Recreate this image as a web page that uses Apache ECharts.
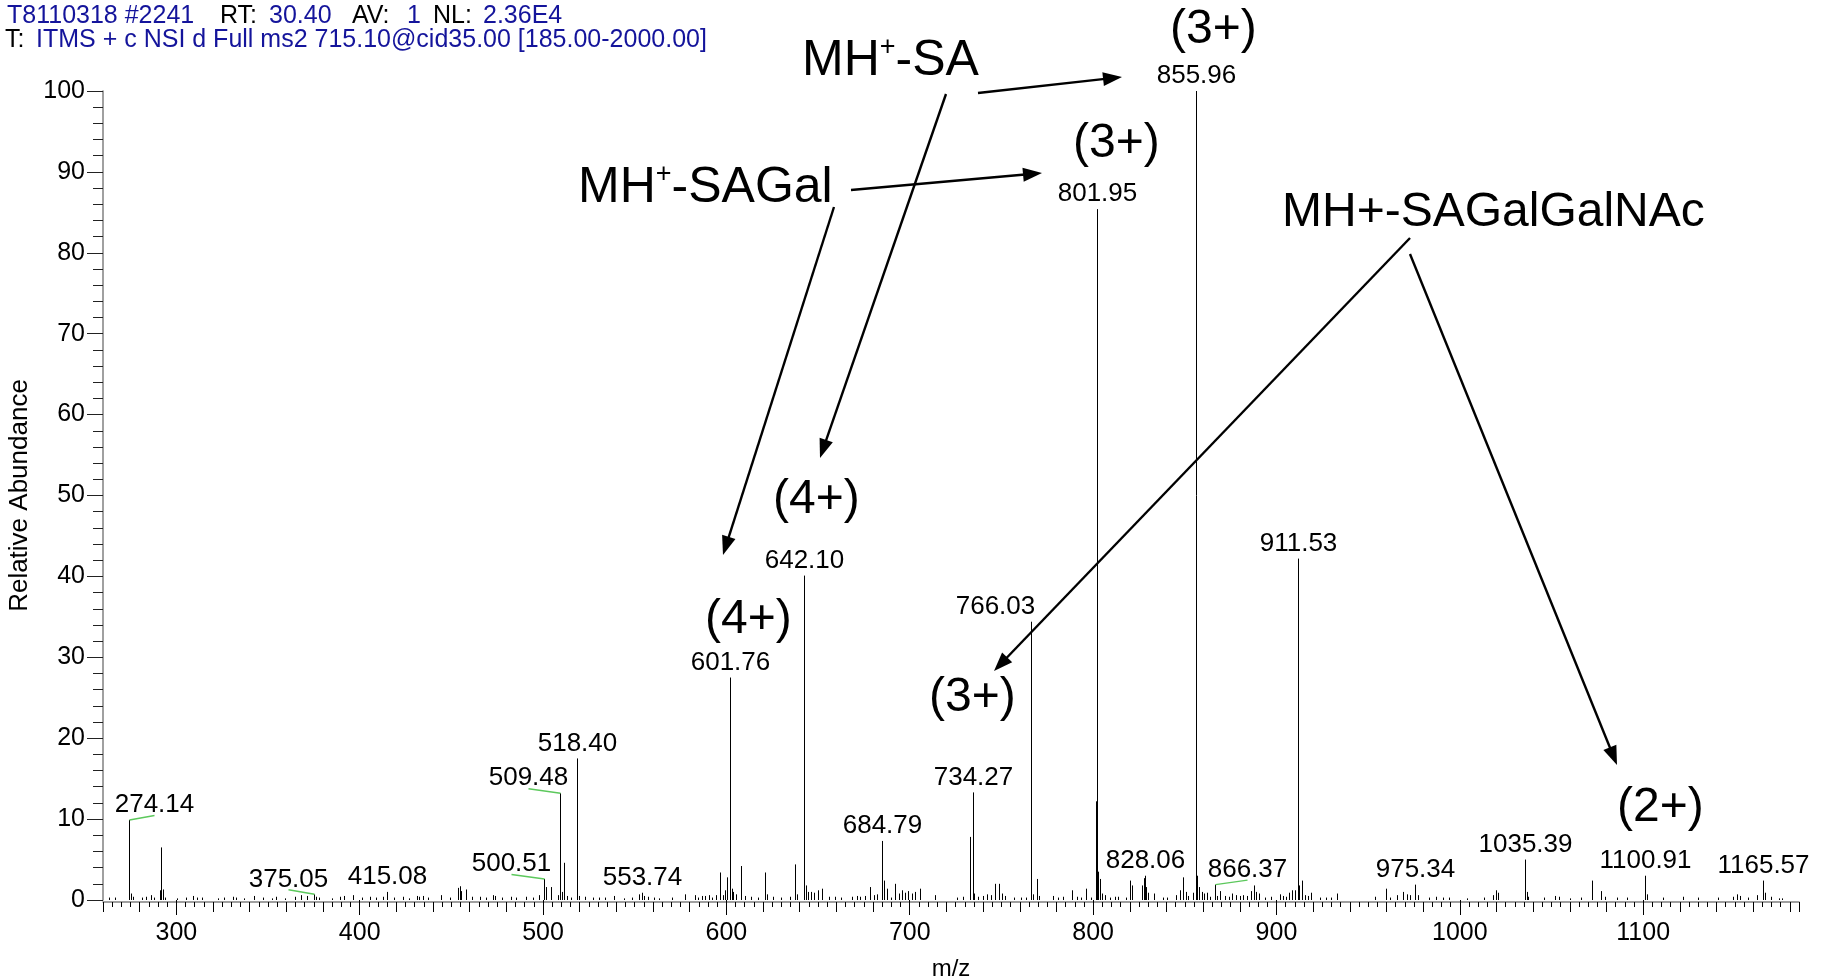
<!DOCTYPE html>
<html>
<head>
<meta charset="utf-8">
<title>MS2 spectrum</title>
<script src="https://cdn.jsdelivr.net/npm/echarts@6.0.0/dist/echarts.min.js"></script>
<style>
html, body { margin: 0; padding: 0; background: #fff; }
#main { width: 1827px; height: 979px; }
</style>
</head>
<body>
<div id="main"></div>
<script>
// axis ranges / ticks
var mzMin = 260, mzMax = 1185;
var mzLabelFrom = 300, mzLabelTo = 1100, mzLabelStep = 100;
var abundMin = 0, abundMax = 100, abundStep = 10;

// labelled peaks (m/z, relative abundance)
var labelMz    = [274.14, 375.05, 415.08, 500.51, 509.48, 518.40, 553.74, 601.76, 642.10, 684.79, 734.27,
                  766.03, 801.95, 828.06, 855.96, 866.37, 911.53, 975.34, 1035.39, 1100.91, 1165.57];
var labelAbund = [9.9, 0.7, 1.0, 2.6, 13.2, 17.5, 0.9, 27.5, 40.1, 7.3, 13.3,
                  34.4, 85.4, 3.0, 100, 1.9, 42.2, 1.9, 5.0, 3.0, 2.4];

// the other (unlabelled) sticks, [m/z, abundance]
var minorPeaks = [
  [263.0,0.3],[266.5,0.3],[275.1,0.8],[276.2,0.4],[281.5,0.3],[283.3,0.4],[286.4,0.6],[288.0,0.3],
  [291.1,1.2],[291.8,6.5],[292.5,1.3],[294.0,0.3],[300.6,0.2],[305.0,0.3],[309.0,0.5],[311.5,0.3],
  [314.0,0.3],[322.5,0.2],[326.0,0.3],[331.0,0.4],[332.5,0.3],[337.0,0.2],[342.5,0.5],[347.0,0.3],
  [352.0,0.2],[354.5,0.4],[359.0,0.2],[364.5,0.4],[368.0,0.6],[371.5,0.5],[376.3,0.4],[378.0,0.3],
  [385.0,0.2],[389.5,0.4],[391.5,0.5],[396.5,0.6],[401.5,0.3],[405.5,0.4],[409.0,0.3],[412.5,0.4],
  [418.5,0.3],[423.5,0.4],[427.0,0.2],[431.0,0.5],[432.5,0.4],[434.5,0.5],[437.5,0.3],[444.5,0.6],
  [449.5,0.3],[453.6,1.5],[454.5,1.7],[455.4,1.1],[457.8,1.3],[461.5,0.4],[465.5,0.4],[469.0,0.3],
  [472.5,0.6],[474.0,0.5],[477.5,0.3],[482.5,0.4],[485.5,0.3],[490.5,0.4],[494.5,0.3],[497.8,0.6],
  [501.5,1.6],[504.3,1.6],[508.3,0.6],[510.4,1.0],[511.4,4.6],[513.0,0.5],[515.5,0.3],[519.4,0.5],
  [523.0,0.4],[527.0,0.3],[530.5,0.3],[534.0,0.3],[538.7,0.5],[544.0,0.2],[548.5,0.3],[552.5,0.7],
  [555.0,0.5],[557.0,0.4],[560.5,0.3],[563.5,0.2],[570.5,0.3],[577.5,0.7],[582.7,0.6],[584.5,0.3],
  [586.5,0.5],[588.5,0.5],[590.5,0.6],[592.0,0.3],[594.5,0.6],[596.7,3.4],[598.0,0.6],[599.2,1.2],
  [600.4,2.8],[602.8,1.4],[603.6,1.0],[605.2,0.7],[607.8,4.2],[610.0,0.5],[613.5,0.4],[617.0,0.3],
  [620.8,3.4],[622.0,0.7],[625.5,0.4],[630.0,0.3],[634.5,0.4],[637.4,4.4],[638.5,0.7],[643.2,1.8],
  [644.6,1.0],[646.4,1.0],[648.0,0.9],[650.2,1.2],[652.3,1.4],[656.0,0.4],[659.5,0.4],[662.5,0.3],
  [668.5,0.4],[671.0,0.5],[673.0,0.4],[675.5,0.5],[678.4,1.6],[680.3,0.6],[682.0,0.7],[685.8,2.4],
  [687.5,1.4],[690.0,0.3],[692.0,2.0],[694.0,0.8],[696.0,1.2],[697.6,0.9],[699.3,1.1],[701.0,0.8],
  [703.0,1.0],[705.5,1.4],[714.0,0.6],[726.0,0.3],[729.0,0.4],[732.6,7.8],[735.3,0.8],[737.0,0.4],
  [740.0,0.5],[742.0,0.7],[744.2,0.6],[746.4,2.0],[748.8,2.0],[750.2,0.8],[752.0,0.5],[757.0,0.3],
  [760.5,0.3],[763.5,0.3],[767.2,0.7],[769.5,2.6],[770.6,0.5],[778.0,0.5],[781.0,0.3],[783.5,0.4],
  [788.5,1.2],[791.0,0.4],[793.5,0.3],[796.4,1.4],[799.0,0.3],[801.62,12.2],[802.28,72.0],[802.62,3.5],
  [803.6,2.6],[805.0,0.8],[806.5,0.6],[809.0,0.3],[812.0,0.4],[813.5,0.4],[818.0,0.3],[820.2,2.4],
  [821.0,1.8],[826.8,1.8],[827.6,2.7],[829.0,1.6],[830.2,0.9],[833.0,0.8],[838.0,0.3],[840.5,0.3],
  [845.0,0.6],[847.2,1.2],[849.3,2.8],[850.5,1.0],[852.0,0.5],[854.5,0.9],[856.30,17.0],[856.63,3.0],
  [858.0,1.6],[859.2,1.0],[860.4,0.8],[862.0,0.9],[863.5,0.4],[867.5,0.5],[869.0,1.1],[872.0,0.5],
  [874.0,0.4],[876.0,0.8],[878.0,0.6],[880.0,0.5],[882.0,0.6],[884.0,0.5],[886.0,1.1],[887.5,1.8],
  [889.0,1.0],[890.5,0.8],[894.0,0.3],[897.0,0.4],[902.0,0.7],[903.5,0.5],[905.0,0.4],[907.0,0.9],
  [908.5,1.2],[910.0,1.2],[912.5,1.8],[914.0,2.4],[915.5,0.6],[917.0,0.5],[919.0,0.9],[924.0,0.3],
  [927.0,0.3],[930.0,0.3],[933.0,0.8],[954.0,0.4],[960.0,1.4],[962.0,0.3],[966.0,0.6],[969.0,1.0],
  [971.0,0.7],[973.0,0.6],[977.0,0.6],[983.0,0.3],[987.0,0.4],[991.0,0.3],[994.0,0.3],[1004.0,0.2],
  [1013.0,0.3],[1018.0,0.6],[1019.6,1.2],[1021.0,0.9],[1036.4,1.0],[1037.3,0.4],[1046.0,0.3],[1052.0,0.5],
  [1054.0,0.4],[1060.0,0.2],[1066.0,0.3],[1072.2,2.4],[1077.0,1.1],[1079.0,0.4],[1086.0,0.3],[1091.0,0.3],
  [1102.0,0.7],[1111.0,0.3],[1122.0,0.4],[1130.0,0.3],[1141.0,0.3],[1149.0,0.4],[1151.0,0.7],[1153.0,0.5],
  [1157.0,0.3],[1162.0,0.6],[1166.6,0.9],[1170.0,0.4],[1174.0,0.2],[1176.0,0.2]
];

// ---- look & layout ----
var FONT = '"Liberation Sans", Arial, Helvetica, sans-serif';
var BLUE = '#14149b';
var plot = { left: 103, right: 28, top: 91, bottom: 79 };
var pxPerMz = (1827 - plot.left - plot.right) / (mzMax - mzMin);

// horizontal shift of labels that were moved off their stick (green leader line)
var labelShift = { '274.14': 25, '375.05': -26, '500.51': -33, '509.48': -32, '866.37': 32, '766.03': -36 };
var leaderLabels = ['274.14', '375.05', '500.51', '509.48', '866.37'];

var headerBits = [
  [7, 16, 'T8110318 #2241', BLUE], [220, 16, 'RT:', '#000'], [269, 16, '30.40', BLUE],
  [352, 16, 'AV:', '#000'], [407, 16, '1', BLUE], [433, 16, 'NL:', '#000'], [483, 16, '2.36E4', BLUE],
  [5, 40, 'T:', '#000'], [36, 40, 'ITMS + c NSI d Full ms2 715.10@cid35.00 [185.00-2000.00]', BLUE]
];

// annotation texts: x, y(middle), text, size
var annoTexts = [
  [802, 61, '{a|MH}{s|+}{a|-SA}', 50],
  [578, 188, '{a|MH}{s|+}{a|-SAGal}', 50],
  [1282, 213, '{a|MH+-SAGalGalNAc}', 48],
  [1170, 30, '{a|(3+)}', 48],
  [1073, 144, '{a|(3+)}', 48],
  [773, 500, '{a|(4+)}', 48],
  [705, 620, '{a|(4+)}', 48],
  [929, 698, '{a|(3+)}', 48],
  [1617, 808, '{a|(2+)}', 48]
];

// arrows: x1, y1 -> tip x2, y2
var arrows = [
  [978, 93, 1122, 77],
  [946, 94, 820, 458],
  [851, 190, 1042, 173],
  [834, 207, 723, 555],
  [1410, 238, 994, 671],
  [1410, 254, 1617, 765]
];

function arrowGraphics(a) {
  var dx = a[2] - a[0], dy = a[3] - a[1];
  var len = Math.sqrt(dx * dx + dy * dy);
  var ux = dx / len, uy = dy / len;
  var hl = 19, hw = 7;
  var bx = a[2] - ux * hl, by = a[3] - uy * hl;
  return [{
    type: 'line', silent: true,
    shape: { x1: a[0], y1: a[1], x2: bx + ux * 2, y2: by + uy * 2 },
    style: { stroke: '#000', lineWidth: 2.4 }
  }, {
    type: 'polygon', silent: true,
    shape: { points: [[a[2], a[3]], [bx - uy * hw, by + ux * hw], [bx + uy * hw, by - ux * hw]] },
    style: { fill: '#000' }
  }];
}

var graphics = [];
headerBits.forEach(function (h) {
  graphics.push({
    type: 'text', x: h[0], y: h[1], silent: true,
    style: { text: h[2], fill: h[3], font: '25px ' + FONT, align: 'left', verticalAlign: 'middle',
             textAlign: 'left', textVerticalAlign: 'middle' }
  });
});
annoTexts.forEach(function (t) {
  graphics.push({
    type: 'text', x: t[0], y: t[1], silent: true,
    style: {
      text: t[2], align: 'left', verticalAlign: 'middle', textAlign: 'left', textVerticalAlign: 'middle',
      rich: {
        a: { fontSize: t[3], fontFamily: FONT, fill: '#000', color: '#000', lineHeight: 54 },
        s: { fontSize: 27, fontFamily: FONT, fill: '#000', color: '#000', lineHeight: 45, verticalAlign: 'top' }
      }
    }
  });
});
arrows.forEach(function (a) { graphics = graphics.concat(arrowGraphics(a)); });

// all sticks
var allPeaks = minorPeaks.slice();
labelMz.forEach(function (m, i) { allPeaks.push([m, labelAbund[i]]); });
allPeaks.sort(function (a, b) { return a[0] - b[0]; });

function renderStick(params, api) {
  var top = api.coord([api.value(0), api.value(1)]);
  var base = api.coord([api.value(0), 0]);
  var x = Math.round(top[0]) + 0.5;
  return {
    type: 'line',
    shape: { x1: x, y1: base[1], x2: x, y2: top[1] },
    style: { stroke: '#000', lineWidth: 1 }
  };
}

function renderLabel(params, api) {
  var mz = api.value(0);
  var p = api.coord([mz, api.value(1)]);
  var txt = mz.toFixed(2);
  var shift = labelShift[txt] || 0;
  var x = Math.round(p[0]) + 0.5;
  var kids = [{
    type: 'text', x: x + shift, y: p[1] - 2,
    style: { text: txt, fill: '#000', font: '26px ' + FONT, align: 'center', verticalAlign: 'bottom',
             textAlign: 'center', textVerticalAlign: 'bottom' }
  }];
  if (leaderLabels.indexOf(txt) >= 0) {
    kids.push({
      type: 'line',
      shape: { x1: x, y1: p[1], x2: x + shift, y2: p[1] - 4.5 },
      style: { stroke: '#5cc85c', lineWidth: 1.5 }
    });
  }
  return { type: 'group', children: kids };
}

var chart = echarts.init(document.getElementById('main'));
chart.setOption({
  animation: false,
  backgroundColor: '#fff',
  graphic: graphics,
  grid: [
    { left: plot.left, right: plot.right, top: plot.top, bottom: plot.bottom, containLabel: false, outerBoundsMode: 'none' },
    // second grid only carries the labelled m/z ticks (every 100)
    { left: plot.left + (mzLabelFrom - mzMin) * pxPerMz,
      right: plot.right + (mzMax - mzLabelTo) * pxPerMz,
      top: plot.top, bottom: plot.bottom, containLabel: false, outerBoundsMode: 'none' }
  ],
  xAxis: [{
    gridIndex: 0, type: 'value', min: mzMin, max: mzMax, interval: 20, offset: 2,
    name: 'm/z', nameLocation: 'middle', nameGap: 55,
    nameTextStyle: { fontSize: 24, fontFamily: FONT, color: '#000' },
    axisLine: { show: true, onZero: false, lineStyle: { color: '#808080', width: 1.5 } },
    axisTick: { show: true, length: 10, lineStyle: { color: '#000', width: 1 } },
    minorTick: { show: true, splitNumber: 4, length: 5, lineStyle: { color: '#000', width: 1 } },
    axisLabel: { show: false },
    splitLine: { show: false }
  }, {
    gridIndex: 1, type: 'value', min: mzLabelFrom, max: mzLabelTo, interval: mzLabelStep, offset: 2,
    axisLine: { show: false },
    axisTick: { show: true, length: 15, lineStyle: { color: '#000', width: 1 } },
    axisLabel: {
      show: true, margin: 19, fontSize: 25, fontFamily: FONT, color: '#000',
      formatter: function (v) { return String(v); }
    },
    splitLine: { show: false }
  }],
  yAxis: [{
    gridIndex: 0, type: 'value', min: abundMin, max: abundMax, interval: abundStep,
    name: 'Relative Abundance', nameLocation: 'middle', nameGap: 62, nameRotate: 90,
    nameTextStyle: { fontSize: 26, fontFamily: FONT, color: '#000' },
    axisLine: { show: true, lineStyle: { color: '#808080', width: 1.5 } },
    axisTick: { show: true, length: 16, lineStyle: { color: '#222', width: 1 } },
    minorTick: { show: true, splitNumber: 5, length: 10, lineStyle: { color: '#222', width: 1 } },
    axisLabel: { margin: 18, fontSize: 25, fontFamily: FONT, color: '#000' },
    splitLine: { show: false }
  }, {
    gridIndex: 1, type: 'value', min: abundMin, max: abundMax, show: false
  }],
  series: [{
    type: 'custom', name: 'sticks', xAxisIndex: 0, yAxisIndex: 0,
    renderItem: renderStick, data: allPeaks, encode: { x: 0, y: 1 }, clip: false, silent: true
  }, {
    type: 'custom', name: 'labels', xAxisIndex: 0, yAxisIndex: 0,
    renderItem: renderLabel,
    data: labelMz.map(function (m, i) { return [m, labelAbund[i]]; }),
    encode: { x: 0, y: 1 }, clip: false, silent: true, z: 3
  }]
});
</script>
</body>
</html>
